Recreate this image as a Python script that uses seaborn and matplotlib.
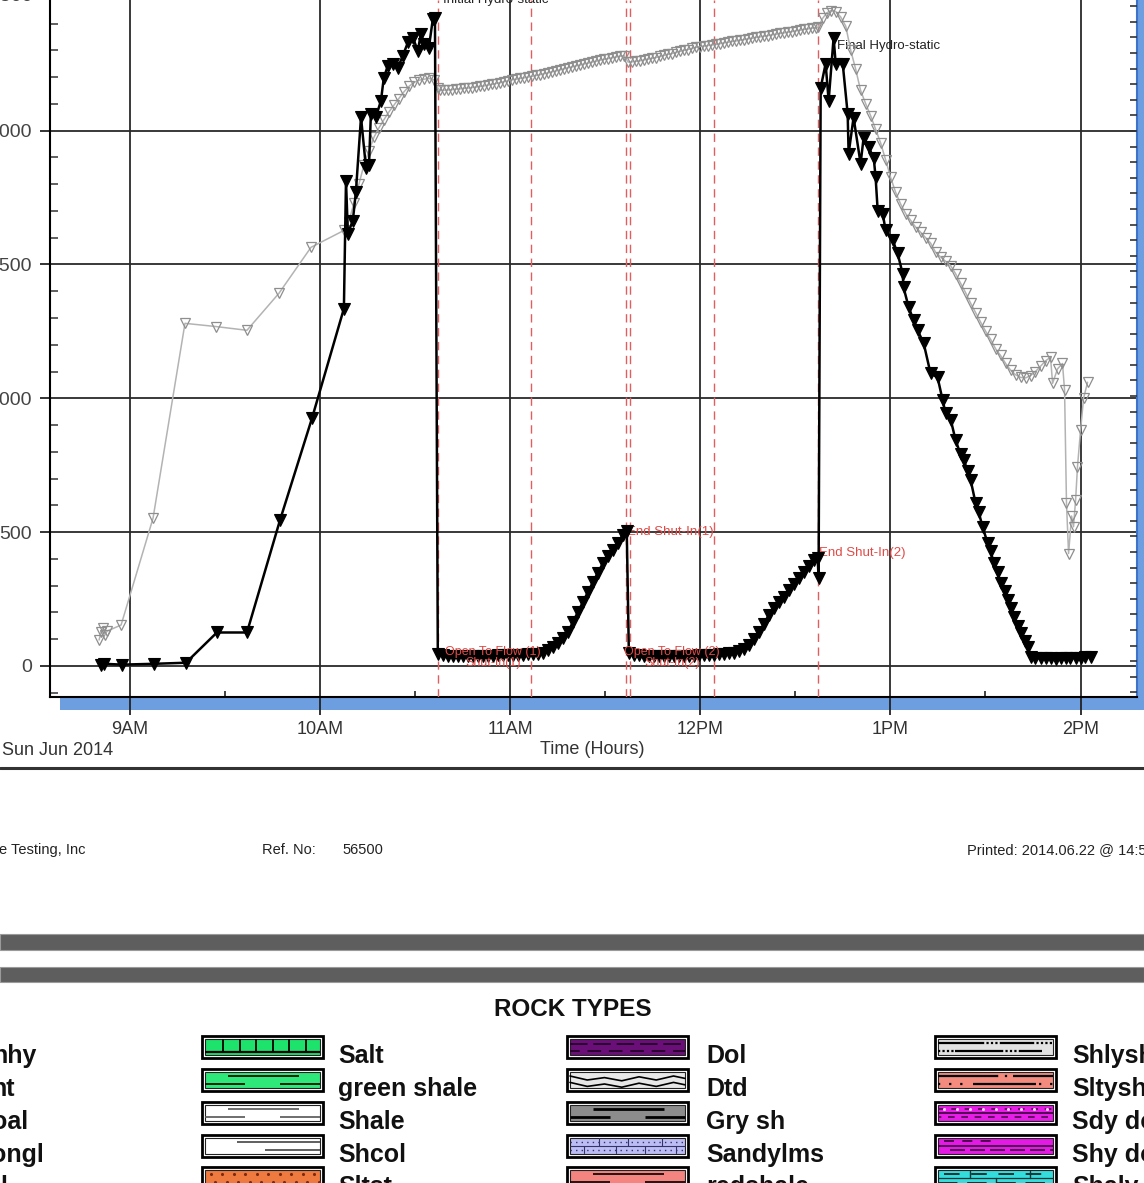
import matplotlib
matplotlib.use("Agg")
import matplotlib.pyplot as plt
import seaborn as sns
import numpy as np
import pandas as pd

from matplotlib.patches import Rectangle
from matplotlib.ticker import MultipleLocator

sns.set_style("white")
plt.rcParams["font.family"] = ["Liberation Sans", "DejaVu Sans"]

W, H = 1144, 1183

#---------------- dados ----------------
hour_ticks = [9, 10, 11, 12, 13, 14]
hour_labels = ["9AM", "10AM", "11AM", "12PM", "1PM", "2PM"]
psi_ticks = [0, 500, 1000, 1500, 2000]

# pressao (serie preta, triangulos cheios)
pressure_hours = [
    8.848, 8.863, 8.958, 9.126, 9.294, 9.457, 9.615, 9.789, 9.957, 10.125,
    10.136, 10.146, 10.172, 10.188, 10.215, 10.241, 10.257, 10.267, 10.293, 10.320,
    10.335, 10.356, 10.383, 10.409, 10.435, 10.462, 10.488, 10.514, 10.530, 10.546,
    10.572, 10.593, 10.604,
    10.619, 10.646, 10.672, 10.698, 10.725, 10.751, 10.777, 10.803, 10.830, 10.856,
    10.882, 10.909, 10.935, 10.961, 10.987, 11.014, 11.040, 11.066, 11.093, 11.119,
    11.145, 11.171,
    11.198, 11.224, 11.250, 11.277, 11.303, 11.329, 11.355, 11.382, 11.408, 11.434,
    11.461, 11.487, 11.513, 11.539, 11.566, 11.592, 11.613,
    11.624, 11.650, 11.676, 11.702, 11.729, 11.755, 11.781, 11.808, 11.834, 11.860,
    11.886, 11.913, 11.939, 11.965, 11.992, 12.018, 12.044, 12.071, 12.097, 12.123,
    12.149, 12.176, 12.202,
    12.228, 12.255, 12.281, 12.307, 12.333, 12.360, 12.386, 12.412, 12.439, 12.465,
    12.491, 12.517, 12.544, 12.570, 12.596, 12.617, 12.622,
    12.633, 12.659, 12.675, 12.701, 12.712, 12.749, 12.775, 12.780, 12.806, 12.843,
    12.859, 12.885, 12.912, 12.922, 12.933, 12.959, 12.975, 13.012, 13.038, 13.064,
    13.069, 13.096, 13.122, 13.143, 13.175, 13.211, 13.248, 13.275, 13.290, 13.317,
    13.343, 13.369, 13.385, 13.406, 13.422, 13.448, 13.464, 13.485, 13.511, 13.527,
    13.543, 13.564, 13.579, 13.601, 13.616, 13.632, 13.648, 13.669, 13.685, 13.706,
    13.721, 13.737,
    13.763, 13.790, 13.816, 13.842, 13.869, 13.895, 13.921, 13.947, 13.974, 14.000,
    14.026, 14.053,
]
pressure_psi = [
    5, 8, 5, 8, 12, 125, 125, 545, 925, 1335,
    1813, 1615, 1664, 1770, 2050, 1862, 1870, 2063, 2050, 2112,
    2198, 2242, 2250, 2235, 2280, 2330, 2347, 2298, 2362, 2325,
    2310, 2418, 2421,
    45, 40, 38, 38, 37, 37, 38, 38, 38, 38,
    39, 39, 40, 40, 40, 41, 41, 42, 43, 44,
    46, 50,
    58, 70, 85, 103, 125, 163, 200, 238, 275, 312,
    348, 383, 410, 435, 459, 490, 505,
    48, 42, 40, 39, 38, 38, 38, 38, 38, 38,
    38, 38, 39, 39, 40, 40, 41, 42, 43, 45,
    47, 50, 55,
    62, 80, 100, 125, 155, 190, 215, 238, 259, 283,
    306, 330, 352, 373, 395, 405, 330,
    2160, 2250, 2112, 2347, 2250, 2250, 2063, 1914, 2049, 1877,
    1974, 1937, 1899, 1825, 1701, 1690, 1627, 1590, 1541, 1466,
    1414, 1340, 1291, 1254, 1205, 1093, 1078, 993, 944, 920,
    843, 790, 769, 730, 694, 608, 575, 519, 459, 430,
    384, 350, 310, 280, 246, 215, 183, 150, 123, 95,
    71, 34,
    30, 28, 30, 28, 27, 30, 28, 29, 31, 30,
    32, 34,
]

# segunda serie (cinza, triangulos vazados)
temp_hours = [
    8.837, 8.848, 8.858, 8.869, 8.879, 8.953, 9.121, 9.289, 9.452, 9.615,
    9.783, 9.952, 10.125, 10.151, 10.178, 10.204, 10.230, 10.257, 10.283, 10.309,
    10.335, 10.362, 10.388, 10.414, 10.441, 10.467, 10.493, 10.519, 10.546, 10.572,
    10.598, 10.619,
    10.631, 10.652, 10.673, 10.694, 10.715, 10.736, 10.757, 10.778, 10.799, 10.820,
    10.841, 10.862, 10.883, 10.904, 10.925, 10.946, 10.967, 10.988, 11.009, 11.031,
    11.052, 11.073, 11.094, 11.115, 11.136, 11.157, 11.178, 11.199, 11.220, 11.241,
    11.262, 11.283, 11.304, 11.325, 11.346, 11.367, 11.388, 11.409, 11.430, 11.451,
    11.472, 11.493, 11.514, 11.536, 11.557, 11.578, 11.599,
    11.620, 11.641, 11.662, 11.683, 11.704, 11.725, 11.746, 11.767, 11.788, 11.809,
    11.830, 11.851, 11.872, 11.893, 11.914, 11.935, 11.956, 11.977, 11.998, 12.019,
    12.041, 12.062, 12.083, 12.104, 12.125, 12.146, 12.167, 12.188, 12.209, 12.230,
    12.251, 12.272, 12.293, 12.314, 12.335, 12.356, 12.377, 12.398, 12.419, 12.440,
    12.461, 12.482, 12.503, 12.524, 12.546, 12.567, 12.588, 12.609, 12.619,
    12.644, 12.665, 12.686, 12.712, 12.738, 12.765, 12.791, 12.817, 12.843, 12.870,
    12.896, 12.922, 12.948, 12.975, 13.001, 13.027, 13.054, 13.080, 13.106, 13.132,
    13.159, 13.185, 13.211, 13.238, 13.264, 13.290, 13.317, 13.343, 13.369, 13.395,
    13.422, 13.448, 13.474, 13.501, 13.527, 13.553, 13.579, 13.606, 13.632, 13.658,
    13.685, 13.711, 13.737, 13.763, 13.790, 13.816, 13.842, 13.853, 13.879, 13.905,
    13.916, 13.926, 13.937, 13.953, 13.963, 13.974, 13.984, 14.000, 14.016, 14.037,
]
temp_vals = [
    97, 127, 142, 116, 130, 153, 552, 1280, 1268, 1254,
    1392, 1564, 1627, 1660, 1730, 1800, 1870, 1925, 1975, 2010,
    2040, 2070, 2095, 2120, 2145, 2165, 2180, 2188, 2192, 2195,
    2190, 2160,
    2150, 2151, 2152, 2153, 2155, 2156, 2158, 2159, 2161, 2163,
    2165, 2167, 2170, 2173, 2176, 2179, 2183, 2186, 2190, 2192,
    2195, 2197, 2200, 2203, 2206, 2209, 2213, 2216, 2220, 2223,
    2227, 2231, 2235, 2238, 2242, 2245, 2249, 2252, 2256, 2259,
    2263, 2266, 2269, 2272, 2275, 2278, 2280,
    2256, 2257, 2259, 2261, 2264, 2267, 2270, 2273, 2277, 2281,
    2285, 2288, 2292, 2296, 2300, 2303, 2307, 2311, 2314, 2316,
    2318, 2320, 2322, 2325, 2328, 2330, 2333, 2335, 2338, 2340,
    2343, 2345, 2348, 2350, 2353, 2355, 2358, 2360, 2363, 2365,
    2368, 2370, 2373, 2375, 2378, 2380, 2383, 2385, 2386,
    2420, 2440, 2448, 2445, 2425, 2390, 2300, 2230, 2150, 2100,
    2055, 2005, 1955, 1890, 1825, 1770, 1725, 1690, 1665, 1640,
    1620, 1600, 1580, 1545, 1528, 1512, 1495, 1465, 1430, 1395,
    1355, 1320, 1285, 1250, 1220, 1185, 1160, 1130, 1105, 1088,
    1078, 1076, 1085, 1100, 1120, 1140, 1153, 1056, 1110, 1130,
    1030, 610, 420, 560, 520, 620, 745, 880, 1000, 1060,
]

# inicio/fim de cada periodo (linhas tracejadas vermelhas)
event_hours = [10.619, 11.108, 11.608, 11.629, 12.071, 12.617]

# legenda de litologias
rock_col1 = ["nhy", "nt", "oal", "ongl", "l"]
rock_col2 = ["Salt", "green shale", "Shale", "Shcol", "Sltst"]
rock_col3 = ["Dol", "Dtd", "Gry sh", "Sandylms", "redshale"]
rock_col4 = ["Shlysh", "Sltysh", "Sdy dol", "Shy dol", "Shaly"]
fill_col2 = ["#1de26b", "#2ee97a", "#ffffff", "#ffffff", "#ef7a3f"]
fill_col3 = ["#6b0f78", "#e8e8e8", "#8c8c8c", "#bdbdf5", "#f3847f"]
fill_col4 = ["#e2e2e2", "#f38b7f", "#e61de6", "#e31ae3", "#35dcdc"]
pattern_col2 = ["salt", "shale", "shale_g", "shcol", "sltst"]
pattern_col3 = ["dol", "dtd", "gry", "sandylms", "shale"]
pattern_col4 = ["shlysh", "sltysh", "sdydol", "shydol", "shaly"]
#---------------------------------------------------------


def draw_swatch(axb, x0, yc, fill, kind):
    w, h = 121, 22
    y0 = yc - h / 2
    axb.add_patch(Rectangle((x0, y0), w, h, fc="white", ec="black", lw=2.0))
    ix, iy, iw, ih = x0 + 3, y0 + 3, w - 6, h - 6
    axb.add_patch(Rectangle((ix, iy), iw, ih, fc=fill, ec="#222222", lw=0.8))

    def seg(fx0, fx1, fy, color="black", lw=1.4, ls="-"):
        axb.plot([ix + fx0 * iw, ix + fx1 * iw], [iy + fy * ih] * 2,
                 color=color, lw=lw, ls=ls, solid_capstyle="butt")

    def dots(fy, color="black", n=12, offset=0.0):
        xs = ix + (np.arange(n) + 0.5 + offset) / n * iw
        axb.scatter(xs, [iy + fy * ih] * n, s=1.5, color=color, zorder=5)

    if kind == "salt":
        seg(0, 1, 0.8, lw=1.6)
        for fx in [0.16, 0.30, 0.44, 0.59, 0.73, 0.88]:
            axb.plot([ix + fx * iw] * 2, [iy + 0.05 * ih, iy + 0.8 * ih], color="black", lw=1.3)
    elif kind in ("shale", "shale_g", "gry"):
        c = "#555555" if kind == "shale_g" else "black"
        lw = 2.0 if kind == "gry" else 1.2
        seg(0.2, 0.82, 0.28, color=c, lw=lw)
        seg(0.0, 0.35, 0.75, color=c, lw=lw)
        seg(0.65, 1.0, 0.75, color=c, lw=lw)
    elif kind == "shcol":
        seg(0.28, 1.0, 0.3, color="#444444", lw=1.2)
        seg(0.52, 1.0, 0.75, color="#444444", lw=1.2)
    elif kind == "sltst":
        dots(0.25, color="#7a2a10", n=10)
        dots(0.75, color="#7a2a10", n=10, offset=0.4)
    elif kind == "dol":
        seg(0, 1, 0.3, color="#2a0030", lw=1.4, ls=(0, (9, 3)))
        seg(0, 1, 0.72, color="#2a0030", lw=1.4, ls=(2, (7, 4)))
    elif kind == "dtd":
        for fy in [0.25, 0.65]:
            xs = ix + np.array([0, 0.15, 0.3, 0.45, 0.6, 0.75, 0.9, 1.0]) * iw
            ys = iy + (fy + np.array([0, 0.25, 0.1, 0.3, 0.05, 0.25, 0.0, 0.15])) * ih
            axb.plot(xs, ys, color="black", lw=1.2)
    elif kind == "sandylms":
        seg(0, 1, 0.3, color="#333366", lw=1.0, ls=(0, (1, 3)))
        seg(0, 1, 0.75, color="#333366", lw=1.0, ls=(0, (1, 3)))
        seg(0, 1, 0.52, color="#333366", lw=0.8)
        for fx in [0.25, 0.5, 0.8]:
            axb.plot([ix + fx * iw] * 2, [iy + 0.05 * ih, iy + 0.5 * ih], color="#333366", lw=0.8)
        for fx in [0.12, 0.4, 0.65, 0.92]:
            axb.plot([ix + fx * iw] * 2, [iy + 0.52 * ih, iy + 0.95 * ih], color="#333366", lw=0.8)
    elif kind == "shlysh":
        seg(0.0, 0.38, 0.25, lw=1.6)
        seg(0.38, 0.55, 0.25, lw=1.6, ls=(0, (1, 1)))
        seg(0.55, 0.82, 0.25, lw=1.6)
        seg(0.82, 1.0, 0.25, lw=1.6, ls=(0, (1, 1)))
        seg(0.0, 0.15, 0.72, lw=1.6, ls=(0, (1, 1)))
        seg(0.15, 0.55, 0.72, lw=1.6)
        seg(0.55, 0.7, 0.72, lw=1.6, ls=(0, (1, 1)))
        seg(0.7, 0.9, 0.72, lw=1.6)
    elif kind == "sltysh":
        seg(0.0, 0.5, 0.25, lw=1.6)
        seg(0.5, 0.65, 0.25, lw=1.6, ls=(0, (1, 3)))
        seg(0.65, 1.0, 0.25, lw=1.6)
        seg(0.0, 0.25, 0.72, lw=1.6, ls=(0, (1, 4)))
        seg(0.3, 0.85, 0.72, lw=1.6)
        seg(0.88, 1.0, 0.72, lw=1.6, ls=(0, (1, 4)))
    elif kind == "sdydol":
        seg(0, 1, 0.5, color="#3a003a", lw=1.2)
        seg(0, 1, 0.22, color="#4a104a", lw=1.2, ls=(0, (4, 4)))
        seg(0, 1, 0.78, color="#4a104a", lw=1.2, ls=(2, (4, 4)))
        dots(0.22, color="#ffd0ff", n=9)
    elif kind == "shydol":
        seg(0, 1, 0.5, color="#3a003a", lw=1.2)
        seg(0.05, 0.5, 0.22, color="#3a003a", lw=1.2, ls=(0, (6, 5)))
        seg(0.1, 1.0, 0.78, color="#3a003a", lw=1.2, ls=(0, (9, 3)))
    elif kind == "shaly":
        seg(0.05, 0.95, 0.25, color="#113333", lw=1.4, ls=(0, (8, 6)))
        seg(0.0, 1.0, 0.52, color="#113333", lw=0.9)
        seg(0.0, 1.0, 0.8, color="#113333", lw=1.4, ls=(0, (10, 5)))
        for fx in [0.28, 0.8]:
            axb.plot([ix + fx * iw] * 2, [iy + 0.05 * ih, iy + 0.52 * ih], color="#113333", lw=1.0)
        for fx in [0.5]:
            axb.plot([ix + fx * iw] * 2, [iy + 0.52 * ih, iy + 0.95 * ih], color="#113333", lw=1.0)


fig = plt.figure(figsize=(W / 100, H / 100), dpi=100)

# camada de fundo em pixels (rodape, barras, legenda)
bg = fig.add_axes([0, 0, 1, 1], zorder=0)
bg.set_xlim(0, W)
bg.set_ylim(H, 0)
bg.axis("off")

ax = fig.add_axes([50 / W, 1 - 697 / H, 1087 / W, 697 / H], zorder=2)

#---------------- series ----------------
df_temp = pd.DataFrame({"hora": temp_hours, "valor": temp_vals})
df_press = pd.DataFrame({"hora": pressure_hours, "valor": pressure_psi})

sns.lineplot(data=df_temp, x="hora", y="valor", ax=ax, sort=False, estimator=None,
             color="#b3b3b3", lw=1.1, marker="v", markersize=7,
             markerfacecolor="none", markeredgecolor="#8e8e8e", markeredgewidth=0.9,
             zorder=4)
sns.lineplot(data=df_press, x="hora", y="valor", ax=ax, sort=False, estimator=None,
             color="black", lw=1.8, marker="v", markersize=8,
             markerfacecolor="black", markeredgecolor="black", markeredgewidth=0.8,
             zorder=5)

for t in event_hours:
    ax.axvline(t, color="#e35d5d", lw=1.0, ls=(0, (6, 4)), zorder=3)

ax.set_xlim(8.579, 14.297)
ax.set_ylim(-116, 2488)
ax.set_xlabel("")
ax.set_ylabel("")
ax.set_xticks(hour_ticks)
ax.set_xticklabels(hour_labels)
ax.set_yticks(psi_ticks)
ax.set_yticklabels([str(v) for v in psi_ticks])
ax.xaxis.set_minor_locator(MultipleLocator(0.5))
ax.yaxis.set_minor_locator(MultipleLocator(100))

ax.grid(True, which="major", color="#2a2a2a", lw=1.3)
ax.set_axisbelow(True)

ax.tick_params(axis="x", which="major", bottom=True, direction="out", length=13,
               width=1.3, pad=4.5, labelsize=13, labelcolor="#333333", color="#222222")
ax.tick_params(axis="y", which="major", left=True, direction="out", length=7.2,
               width=1.3, pad=5.8, labelsize=14, labelcolor="#444444", color="#222222")
ax.tick_params(axis="x", which="minor", bottom=True, direction="in", length=4.5,
               width=1.2, color="#222222")
ax.tick_params(axis="y", which="minor", left=True, direction="in", length=5.8,
               width=1.2, color="#444444")

ax.spines["top"].set_visible(False)
ax.spines["left"].set_color("black")
ax.spines["left"].set_linewidth(1.5)
ax.spines["bottom"].set_color("black")
ax.spines["bottom"].set_linewidth(1.5)
ax.spines["right"].set_color("#3d74c9")
ax.spines["right"].set_linewidth(1.5)

# eixo direito, so as marcas
ax_r = ax.twinx()
ax_r.set_ylim(-0.3, 44.4)
ax_r.yaxis.set_major_locator(MultipleLocator(1))
ax_r.tick_params(axis="y", right=True, labelright=False, direction="in",
                 length=5, width=1.2, color="#333333")
for s in ax_r.spines.values():
    s.set_visible(False)

# textos dos eventos
red = "#e04a46"
ax.text(10.646, 2466, "Initial Hydro-static", fontsize=9.5, color="#222222",
        ha="left", va="bottom", clip_on=False)
ax.text(12.717, 2317, "Final Hydro-static", fontsize=9.5, color="#222222",
        ha="left", va="center")
ax.text(11.615, 500, "End Shut-In(1)", fontsize=9.5, color=red, ha="left", va="center")
ax.text(12.625, 422, "End Shut-In(2)", fontsize=9.5, color=red, ha="left", va="center")
ax.text(10.909, 32, "Open To Flow (1)\nShut-In(1)", fontsize=9, color=red,
        ha="center", va="center", linespacing=0.95, zorder=6)
ax.text(11.850, 32, "Open To Flow (2)\nShut-In(2)", fontsize=9, color=red,
        ha="center", va="center", linespacing=0.95, zorder=6)

#---------------- moldura azul e rodape ----------------
bg.add_patch(Rectangle((60, 698), W - 60, 12, fc="#6c9ee0", ec="none"))
bg.add_patch(Rectangle((1137, 0), 7, 710, fc="#6c9ee0", ec="none"))
bg.text(32, -4, "2500", ha="right", va="center", fontsize=14, color="#444444")

bg.text(2, 750, "Sun Jun 2014", ha="left", va="center", fontsize=13, color="#333333")
bg.text(592, 749, "Time (Hours)", ha="center", va="center", fontsize=13, color="#333333")
bg.plot([0, W], [768, 768], color="#333333", lw=2.2)

bg.text(-1, 850, "e Testing, Inc", ha="left", va="center", fontsize=10.5, color="#222222")
bg.text(262, 850, "Ref. No:", ha="left", va="center", fontsize=10.5, color="#222222")
bg.text(342, 850, "56500", ha="left", va="center", fontsize=10.5, color="#222222")
bg.text(967, 850, "Printed: 2014.06.22 @ 14:58", ha="left", va="center",
        fontsize=10.5, color="#222222")

bg.add_patch(Rectangle((0, 934), W, 16, fc="#5e5e5e", ec="#9a9a9a", lw=0.8))
bg.add_patch(Rectangle((0, 967), W, 15, fc="#5e5e5e", ec="#9a9a9a", lw=0.8))

#---------------- legenda ROCK TYPES ----------------
bg.text(573, 1016, "ROCK TYPES", ha="center", va="baseline", fontsize=17.5,
        fontweight="bold", color="#111111")

row_swatch = [1047, 1080, 1113, 1145.5, 1178]
row_text = [1063, 1096, 1129, 1162, 1194]
col1_right = [37, 15, 28, 44, 7]

for i in range(5):
    bg.text(col1_right[i], row_text[i], rock_col1[i], ha="right", va="baseline",
            fontsize=18, fontweight="bold", color="#111111")
    for x_sw, x_tx, names, fills, kinds in [
        (202, 338, rock_col2, fill_col2, pattern_col2),
        (567, 706, rock_col3, fill_col3, pattern_col3),
        (935, 1072, rock_col4, fill_col4, pattern_col4),
    ]:
        draw_swatch(bg, x_sw, row_swatch[i], fills[i], kinds[i])
        bg.text(x_tx, row_text[i], names[i], ha="left", va="baseline",
                fontsize=18, fontweight="bold", color="#111111")

fig.savefig("out.png", dpi=100)
